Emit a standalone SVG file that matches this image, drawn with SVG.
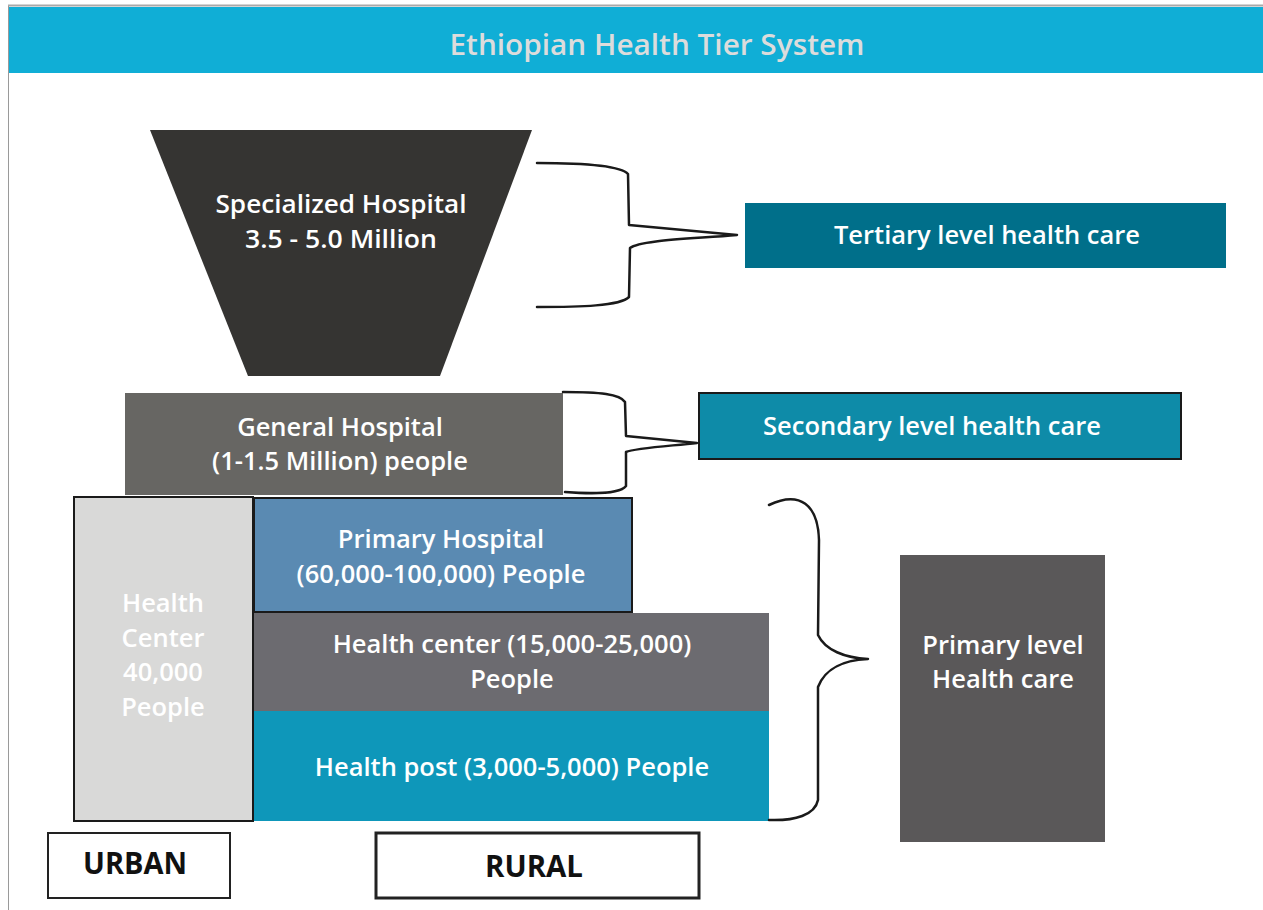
<svg xmlns="http://www.w3.org/2000/svg" width="1263" height="910" viewBox="0 0 1263 910">
  <style>
    .lbl { font-family: "Open Sans", "Liberation Sans", sans-serif; font-weight: 600; fill: #ffffff; text-anchor: middle; font-size: 25.5px; }
    .dark { fill: #111111; font-weight: 700; font-size: 30px; }
    .brace { fill: none; stroke: #1a1a1a; stroke-width: 2.5; stroke-linejoin: round; stroke-linecap: round; }
    .edge { stroke: #1a1a1a; stroke-width: 2; }
  </style>
  <rect x="0" y="0" width="1263" height="910" fill="#ffffff"/>
  <!-- frame and banner -->
  <line x1="8" y1="5.5" x2="1263" y2="5.5" stroke="#a9a9a9" stroke-width="2"/>
  <line x1="8.5" y1="6" x2="8.5" y2="910" stroke="#9a9a9a" stroke-width="1"/>
  <g id="banner">
    <rect x="9" y="7" width="1254" height="66" fill="#10aed6"/>
    <text x="657" y="55" font-family="Open Sans, Liberation Sans, sans-serif" font-size="28" font-weight="600" fill="#dcdcdc" text-anchor="middle" textLength="415" lengthAdjust="spacingAndGlyphs">Ethiopian Health Tier System</text>
  </g>

  <g id="specialized-hospital">
    <polygon points="150,130 532,130 440,376 248,376" fill="#353432"/>
    <text class="lbl" x="341" y="213" textLength="251" lengthAdjust="spacingAndGlyphs">Specialized Hospital</text>
    <text class="lbl" x="341" y="248" textLength="192" lengthAdjust="spacingAndGlyphs">3.5 - 5.0 Million</text>
  </g>

  <g id="general-hospital">
    <rect x="125" y="393" width="438" height="102" fill="#676663"/>
    <text class="lbl" x="340" y="436">General Hospital</text>
    <text class="lbl" x="340" y="470">(1-1.5 Million) people</text>
  </g>

  <g id="health-center-urban">
    <rect x="74" y="497" width="179" height="324" fill="#d9d9d8" class="edge"/>
    <text class="lbl" x="163" y="612">Health</text>
    <text class="lbl" x="163" y="647">Center</text>
    <text class="lbl" x="163" y="681">40,000</text>
    <text class="lbl" x="163" y="716">People</text>
  </g>

  <g id="primary-hospital">
    <rect x="254" y="498" width="378" height="114" fill="#5a8ab2" class="edge"/>
    <text class="lbl" x="441" y="548">Primary Hospital</text>
    <text class="lbl" x="441" y="583">(60,000-100,000) People</text>
  </g>

  <g id="health-center-rural">
    <rect x="254" y="613" width="515" height="98" fill="#6c6b70"/>
    <text class="lbl" x="512" y="653">Health center (15,000-25,000)</text>
    <text class="lbl" x="512" y="688">People</text>
  </g>

  <g id="health-post">
    <rect x="254" y="711" width="515" height="110" fill="#0e97ba"/>
    <text class="lbl" x="512" y="776">Health post (3,000-5,000) People</text>
  </g>

  <g id="tertiary-care">
    <rect x="745" y="203" width="481" height="65" fill="#006f8a"/>
    <text class="lbl" x="987" y="244">Tertiary level health care</text>
  </g>

  <g id="secondary-care">
    <rect x="699" y="393" width="482" height="66" fill="#0e8ba8" class="edge"/>
    <text class="lbl" x="932" y="435">Secondary level health care</text>
  </g>

  <g id="primary-care">
    <rect x="900" y="555" width="205" height="287" fill="#5a5859"/>
    <text class="lbl" x="1003" y="654">Primary level</text>
    <text class="lbl" x="1003" y="688">Health care</text>
  </g>

  <g id="urban">
    <rect x="48" y="833" width="182" height="65" fill="#ffffff" stroke="#222" stroke-width="2"/>
    <text class="lbl dark" x="135" y="874" textLength="104" lengthAdjust="spacingAndGlyphs">URBAN</text>
  </g>

  <g id="rural">
    <rect x="376" y="833" width="323" height="65" fill="#ffffff" stroke="#222" stroke-width="3"/>
    <text class="lbl dark" x="534" y="877" textLength="98" lengthAdjust="spacingAndGlyphs">RURAL</text>
  </g>

  <!-- curly braces tying each tier to its care level -->
  <g id="connectors">
    <path class="brace" d="M537,163 C580,163 620,165 628,174 L629,225 L737,235 C690,239 640,240 630,248 L629,297 C620,306 580,307 537,307"/>
    <path class="brace" d="M563,392 C600,392 620,394 625,402 L626,436 L697,443 C670,446 635,448 626,452 L626,486 C620,494 590,494 565,492"/>
    <path class="brace" d="M769,505 C800,490 818,505 819,540 L818,635 C825,650 845,658 868,659 C845,660 825,668 818,687 L818,800 C815,815 795,821 769,820"/>
  </g>
</svg>
